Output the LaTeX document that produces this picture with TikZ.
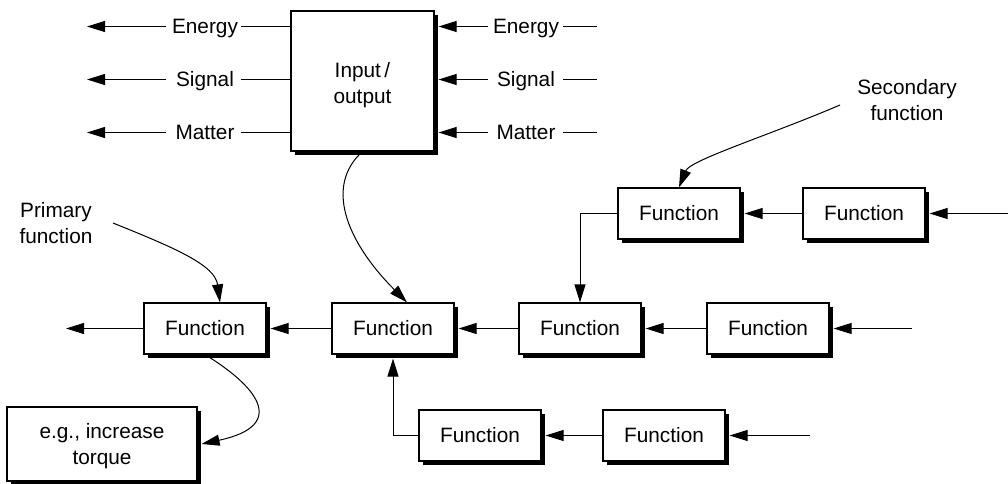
\documentclass[tikz,border=0pt]{standalone}
\usepackage{fontspec}
\setmainfont{Liberation Sans}
\usetikzlibrary{arrows.meta,shadows,calc}
\newcommand{\lowered}[2]{\raisebox{-#1}[\height][\depth]{#2}}
\begin{document}
\begin{tikzpicture}[x=0.5pt,y=-0.5pt,
  font=\fontsize{10.4}{13}\selectfont,
  box/.style={draw, line width=0.6pt, fill=white,
    drop shadow={shadow xshift=2pt,shadow yshift=-2pt,fill=black,opacity=1}},
  fbox/.style={box, minimum width=61pt, minimum height=25.5pt, inner sep=0pt,
    text height=0.72em, text depth=0pt},
  lbl/.style={inner sep=0pt, text height=0.72em, text depth=0pt},
  ln/.style={line width=0.5pt},
  arr/.style={ln, -{Triangle[length=9pt,width=5.5pt]}},
]
\useasboundingbox (0,0) rectangle (1008,483);

% input/output box
\node[box, minimum width=71.5pt, minimum height=70pt, align=center] (io) at (362.5,81)
  {\lowered{2pt}{Input\,/}\\\lowered{2pt}{output}};

\foreach \y/\t [count=\i] in {26.5/Energy,79.5/Signal,132.5/Matter} {
  \node[lbl] (L\i) at (205,\y) {\t};
  \coordinate (La\i) at (241,\y);
  \coordinate (Lb\i) at (166,\y);
  \coordinate (Lc\i) at (87,\y);
  \draw[ln] (io.west |- La\i) -- (La\i);
  \draw[arr] (Lb\i) -- (Lc\i);
  \node[lbl] (R\i) at (526,\y) {\t};
  \coordinate (Ra\i) at (488,\y);
  \coordinate (Rb\i) at (563,\y);
  \coordinate (Rc\i) at (597,\y);
  \draw[arr] (Ra\i) -- ($(io.east |- Ra\i)+(2pt,0)$);
  \draw[ln] (Rb\i) -- (Rc\i);
}

% function boxes
\node[fbox] (F1) at (205,328.5) {Function};
\node[fbox] (F2) at (393,328.5) {Function};
\node[fbox] (F3) at (580,328.5) {Function};
\node[fbox] (F4) at (768,328.5) {Function};
\node[fbox] (F5) at (679,213.5) {Function};
\node[fbox] (F6) at (864,213.5) {Function};
\node[fbox] (F7) at (480,435.5) {Function};
\node[fbox] (F8) at (664,435.5) {Function};

\node[box, minimum width=95pt, minimum height=37pt, align=center] (eg) at (102,444)
  {\lowered{1pt}{e.g., increase}\\\lowered{1pt}{torque}};

\node[align=center, inner sep=0pt] (prim) at (56,223) {Primary\\function};
\node[align=center, inner sep=0pt] (sec) at (907,100) {Secondary\\function};

% free ends
\coordinate (out1) at (66,328.5);
\coordinate (in4) at (912,328.5);
\coordinate (in6) at (1008,213.5);
\coordinate (in8) at (810,435.5);
\coordinate (ps) at (113,223);
\coordinate (ss) at (840,105);

% middle row
\draw[arr] (F1.west) -- (out1);
\draw[arr] (F2.west) -- ($(F1.east)+(2pt,0)$);
\draw[arr] (F3.west) -- ($(F2.east)+(2pt,0)$);
\draw[arr] (F4.west) -- ($(F3.east)+(2pt,0)$);
\draw[arr] (in4) -- ($(F4.east)+(2pt,0)$);
% top row
\draw[arr] (F6.west) -- ($(F5.east)+(2pt,0)$);
\draw[arr] (in6) -- ($(F6.east)+(2pt,0)$);
\draw[arr] (F5.west) -| (F3.north);
% bottom row
\draw[arr] (F8.west) -- ($(F7.east)+(2pt,0)$);
\draw[arr] (in8) -- ($(F8.east)+(2pt,0)$);
\draw[arr] (F7.west) -| ($(F2.south)+(0,-2pt)$);

% curves
\draw[arr] (ps) .. controls (175,248) and (215,265) .. ($(F1.north)+(7.5pt,0)$);
\draw[arr] (ss) .. controls (770,135) and (690,160) .. (F5.north);
\draw[arr] (io.south) .. controls (325,185) and (345,240) .. ($(F2.north)+(7pt,0)$);
\draw[arr] (F1.south) .. controls (255,385) and (290,425) .. ($(eg.east)+(2pt,0)$);
\end{tikzpicture}
\end{document}
